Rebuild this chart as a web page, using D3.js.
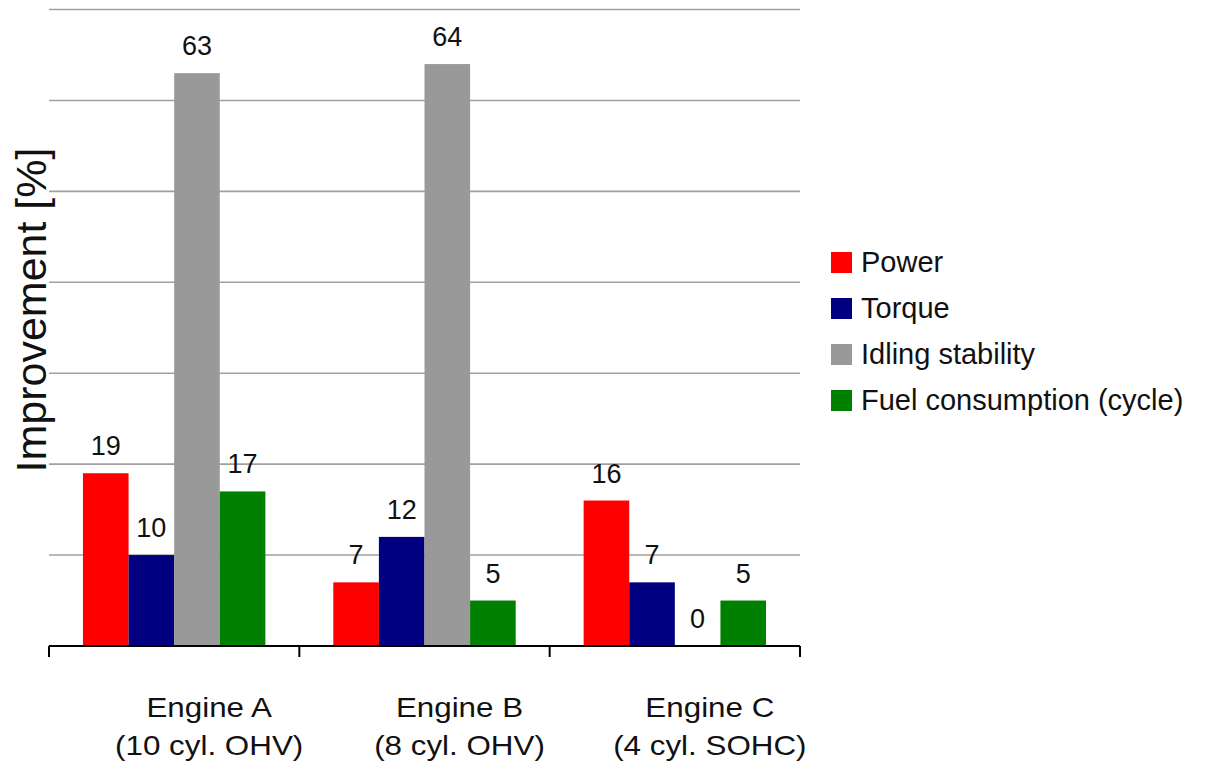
<!DOCTYPE html>
<html>
<head>
<meta charset="utf-8">
<script src="https://cdn.jsdelivr.net/npm/d3@7"></script>
<style>
  html, body { margin: 0; padding: 0; background: #fff; }
  svg { display: block; font-family: "Liberation Sans", Arial, sans-serif; }
</style>
</head>
<body>
<svg id="chart" width="1206" height="763"></svg>
<script>
const categories = ["Engine A", "Engine B", "Engine C"];
const categorySub = ["(10 cyl. OHV)", "(8 cyl. OHV)", "(4 cyl. SOHC)"];
const seriesNames = ["Power", "Torque", "Idling stability", "Fuel consumption (cycle)"];
const seriesColors = ["#ff0000", "#000080", "#999999", "#008000"];
const power = [19, 7, 16];
const torque = [10, 12, 7];
const idling = [63, 64, 0];
const fuel = [17, 5, 5];
const gridTicks = [10, 20, 30, 40, 50, 60, 70];

const seriesValues = [power, torque, idling, fuel];

const svg = d3.select("#chart");
const plotLeft = 49, plotRight = 800, plotTop = 9.5, plotBottom = 646;

const x0 = d3.scaleBand().domain(categories).range([plotLeft, plotRight]).padding(0);
const x1 = d3.scaleBand().domain(seriesNames).range([0, x0.bandwidth()]).paddingInner(0).paddingOuter(0.745);
const y = d3.scaleLinear().domain([0, 70]).range([plotBottom, plotTop]);

// gridlines
svg.append("g").selectAll("line").data(gridTicks).join("line")
  .attr("x1", plotLeft).attr("x2", plotRight)
  .attr("y1", d => y(d)).attr("y2", d => y(d))
  .attr("stroke", "#a0a0a0").attr("stroke-width", 1.6);

// bars
const groups = svg.append("g").selectAll("g").data(categories).join("g")
  .attr("transform", d => `translate(${x0(d)},0)`);

groups.each(function(cat, ci) {
  const g = d3.select(this);
  seriesNames.forEach((s, si) => {
    const v = seriesValues[si][ci];
    g.append("rect")
      .attr("x", x1(s)).attr("width", x1.bandwidth())
      .attr("y", y(v)).attr("height", y(0) - y(v))
      .attr("fill", seriesColors[si]);
    g.append("text")
      .attr("x", x1(s) + x1.bandwidth() / 2)
      .attr("y", y(v) - 18)
      .attr("text-anchor", "middle")
      .attr("font-size", 27)
      .attr("fill", "#111")
      .text(v);
  });
});

// x axis
const xAxis = svg.append("g");
xAxis.append("line").attr("x1", plotLeft).attr("x2", plotRight).attr("y1", plotBottom).attr("y2", plotBottom)
  .attr("stroke", "#000").attr("stroke-width", 2);
const boundaries = categories.map(c => x0(c)).concat([x0(categories[categories.length - 1]) + x0.bandwidth()]);
xAxis.selectAll("line.tick").data(boundaries).join("line").attr("class", "tick")
  .attr("x1", d => d).attr("x2", d => d).attr("y1", plotBottom).attr("y2", plotBottom + 11)
  .attr("stroke", "#000").attr("stroke-width", 2);

const labels = xAxis.selectAll("text.cat").data(categories).join("text").attr("class", "cat")
  .attr("transform", d => `translate(${x0(d) + x0.bandwidth() / 2 + 35},0) scale(1.12,1)`)
  .attr("text-anchor", "middle")
  .attr("font-size", 28)
  .attr("fill", "#111");
labels.append("tspan")
  .attr("x", 0)
  .attr("y", 717)
  .text(d => d);
labels.append("tspan")
  .attr("x", 0)
  .attr("y", 755)
  .text((d, i) => categorySub[i]);

// y axis title
svg.append("text")
  .attr("transform", "translate(46,310) rotate(-90)")
  .attr("text-anchor", "middle")
  .attr("font-size", 43)
  .attr("fill", "#111")
  .text("Improvement [%]");

// legend
const legend = svg.append("g").selectAll("g").data(seriesNames).join("g")
  .attr("transform", (d, i) => `translate(831,${252 + i * 46})`);
legend.append("rect").attr("width", 21).attr("height", 21)
  .attr("fill", (d, i) => seriesColors[i]);
legend.append("text").attr("x", 30).attr("y", 20)
  .attr("font-size", 29).attr("fill", "#111")
  .text(d => d);
</script>
</body>
</html>
